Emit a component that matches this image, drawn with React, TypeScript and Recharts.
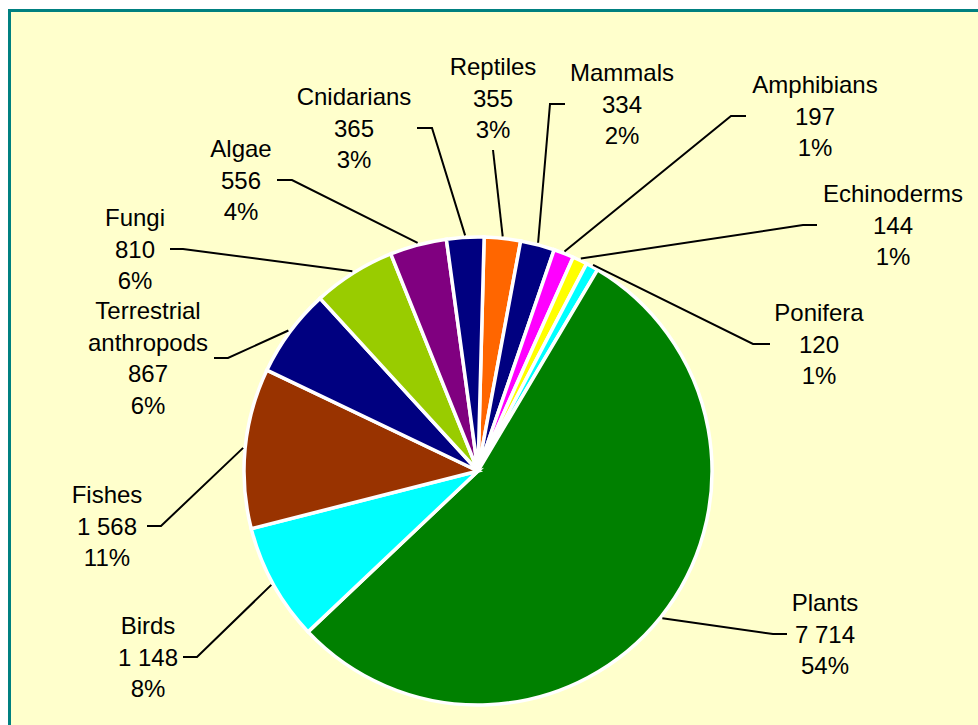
import { PieChart, Pie, Cell } from "recharts"

const CATEGORIES = [
  "Reptiles",
  "Mammals",
  "Amphibians",
  "Echinoderms",
  "Ponifera",
  "Plants",
  "Birds",
  "Fishes",
  "Terrestrial anthropods",
  "Fungi",
  "Algae",
  "Cnidarians",
]
const VALUES = [355, 334, 197, 144, 120, 7714, 1148, 1568, 867, 810, 556, 365]
const COLORS = [
  "#FF6600",
  "#000080",
  "#FF00FF",
  "#FFFF00",
  "#00FFFF",
  "#008000",
  "#00FFFF",
  "#993300",
  "#000080",
  "#99CC00",
  "#800080",
  "#000080",
]

// label placement: text centre x, block centre y, elbow of leader line, end x of horizontal tick
const LABEL_LAYOUT = [
  { x: 493, cy: 98, elbow: [493, 150], endX: 493 },
  { x: 622, cy: 104, elbow: [550, 104], endX: 565 },
  { x: 815, cy: 116, elbow: [731, 116], endX: 746 },
  { x: 893, cy: 225, elbow: [803, 225], endX: 817 },
  { x: 819, cy: 344, elbow: [753, 344], endX: 770 },
  { x: 825, cy: 634, elbow: [773, 634], endX: 787 },
  { x: 148, cy: 657, elbow: [197, 657], endX: 183 },
  { x: 107, cy: 526, elbow: [161, 526], endX: 147 },
  { x: 148, cy: 358, elbow: [228, 358], endX: 214 },
  { x: 135, cy: 249, elbow: [183, 249], endX: 170 },
  { x: 241, cy: 180, elbow: [292, 180], endX: 277 },
  { x: 354, cy: 128, elbow: [432, 128], endX: 417 },
]

const NAME_LINES: Record<string, string[]> = {
  "Terrestrial anthropods": ["Terrestrial", "anthropods"],
}

const TOTAL = VALUES.reduce((a, b) => a + b, 0)
const chartData = CATEGORIES.map((name, i) => ({ name, value: VALUES[i] }))

const RAD = Math.PI / 180
const LINE_H = 31.7
const FONT = "Arial, 'Liberation Sans', sans-serif"

const fmt = (v: number) => String(v).replace(/\B(?=(\d{3})+(?!\d))/g, " ")

function renderLabel(props: any) {
  const { cx, cy, midAngle, outerRadius, index } = props
  const lay = LABEL_LAYOUT[index]
  const name = CATEGORIES[index]
  const value = VALUES[index]
  const lines = [
    ...(NAME_LINES[name] || [name]),
    fmt(value),
    `${Math.round((value / TOTAL) * 100)}%`,
  ]
  const r = outerRadius + 2
  const sx = cx + r * Math.cos(-midAngle * RAD)
  const sy = cy + r * Math.sin(-midAngle * RAD)
  const [ex, ey] = lay.elbow
  const n = lines.length
  return (
    <g key={`label-${index}`}>
      <polyline
        points={`${sx},${sy} ${ex},${ey} ${lay.endX},${ey}`}
        fill="none"
        stroke="#000"
        strokeWidth={2}
      />
      <text x={lay.x} textAnchor="middle" fontFamily={FONT} fontSize={24} fill="#000">
        {lines.map((t, i) => (
          <tspan key={i} x={lay.x} y={lay.cy + (i - (n - 1) / 2) * LINE_H + 8.5}>
            {t}
          </tspan>
        ))}
      </text>
    </g>
  )
}

export default function App() {
  return (
    <div
      style={{
        position: "fixed",
        left: 0,
        top: 0,
        width: 978,
        height: 725,
        overflow: "hidden",
        background: "#fff",
      }}
    >
      <div
        style={{
          position: "absolute",
          left: 8,
          top: 9,
          width: 1000,
          height: 760,
          border: "3px solid #008080",
          background: "#FFFFCC",
        }}
      />
      <div style={{ position: "absolute", left: 0, top: 0 }}>
        <PieChart width={978} height={725} margin={{ top: 0, right: 0, bottom: 0, left: 0 }}>
          <Pie
            data={chartData}
            dataKey="value"
            nameKey="name"
            cx={478}
            cy={471}
            outerRadius={234}
            startAngle={88.5}
            endAngle={-271.5}
            stroke="#FFFFFF"
            strokeWidth={3.5}
            label={renderLabel}
            labelLine={false}
            isAnimationActive={false}
          >
            {chartData.map((entry, index) => (
              <Cell key={`cell-${index}`} fill={COLORS[index]} />
            ))}
          </Pie>
        </PieChart>
      </div>
    </div>
  )
}
